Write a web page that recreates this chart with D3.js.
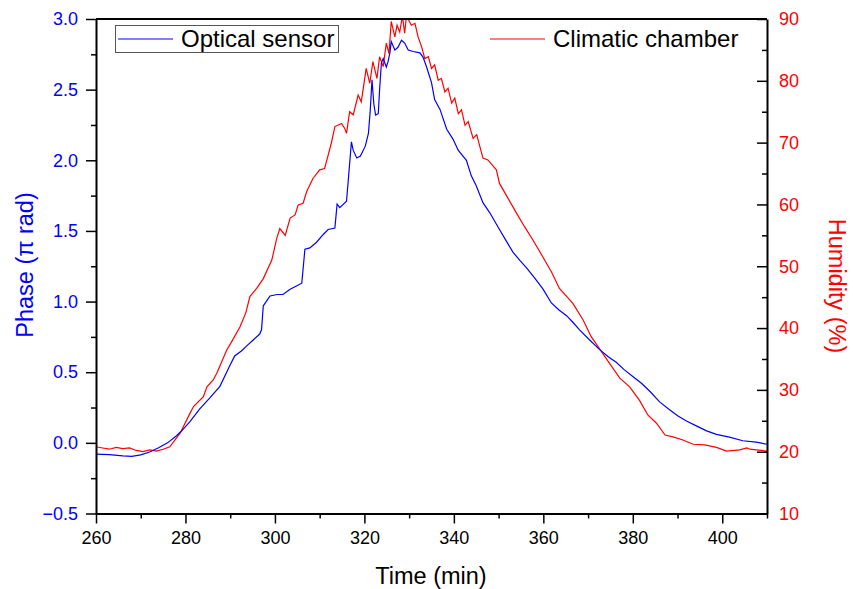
<!DOCTYPE html>
<html lang="en">
<head>
    <meta charset="UTF-8">
    <title>Phase and humidity</title>
    <script src="https://cdn.jsdelivr.net/npm/d3@7"></script>
    <style>
        body { margin: 0; background: #fff; }
        text { font-family: "Liberation Sans", Arial, sans-serif; }
        .axis path.domain { stroke: #000; stroke-width: 2; }
        .axis line { stroke: #000; stroke-width: 1.5; }
        .axis text { font-size: 18px; }
    </style>
</head>
<body>
<script>
    const width = 853, height = 589;
    const margin = {top: 19, right: 86, bottom: 75.5, left: 96};

    // Optical sensor: time (min) / phase (pi rad)
    const optTime = [260, 263, 266, 268, 270, 272, 274, 276, 278, 279, 281, 283.2, 285.5, 287.7, 289.9, 291, 292.5,
        293.7, 295.2, 296.6, 297, 297.4, 298.9, 300.5, 301.8, 303.3, 304.8, 306, 306.7, 307.8, 309.3, 310.8, 311.9,
        313.4, 313.9, 314.5, 316, 316.4, 317.1, 317.5, 318.3, 319.1, 320.2, 320.9, 321.3, 321.7, 322.1, 322.5, 323.1,
        323.4, 323.8, 324.2, 324.9, 325.3, 325.7, 326, 326.8, 327.5, 328.3, 329, 329.8, 330.9, 332.4, 333.1, 333.9,
        335, 335.7, 336.9, 338.4, 339.8, 341, 342.8, 343.9, 345, 346.5, 348, 350.2, 351.7, 353.2, 354.8, 356.2, 358,
        359.9, 361.8, 363.5, 365.2, 366.7, 368.1, 370.3, 372.6, 374.5, 376.3, 378, 380, 382, 383.8, 386, 388, 390.1,
        392, 394.2, 396.5, 398.7, 401.6, 404.6, 407.6, 410];
    const optPhase = [-0.08, -0.083, -0.092, -0.095, -0.085, -0.065, -0.035, 0.0, 0.05, 0.08, 0.15, 0.24, 0.32, 0.40,
        0.545, 0.615, 0.65, 0.686, 0.73, 0.77, 0.8, 0.97, 1.04, 1.05, 1.05, 1.086, 1.11, 1.13, 1.37, 1.38, 1.42, 1.475,
        1.51, 1.52, 1.69, 1.665, 1.71, 1.86, 2.13, 2.07, 2.016, 2.03, 2.10, 2.19, 2.35, 2.57, 2.40, 2.32, 2.33, 2.50,
        2.69, 2.72, 2.66, 2.70, 2.76, 2.84, 2.78, 2.80, 2.85, 2.83, 2.78, 2.77, 2.76, 2.73, 2.66, 2.55, 2.43, 2.36,
        2.22, 2.15, 2.07, 2.00, 1.89, 1.82, 1.70, 1.63, 1.51, 1.43, 1.35, 1.29, 1.24, 1.17, 1.09, 0.99, 0.94, 0.90,
        0.85, 0.80, 0.73, 0.66, 0.61, 0.57, 0.52, 0.47, 0.42, 0.365, 0.29, 0.24, 0.19, 0.155, 0.12, 0.085, 0.06, 0.04,
        0.015, 0.005, -0.01];

    // Climatic chamber: time (min) / humidity (%)
    const humTime = [260, 261.5, 263, 264.5, 266, 267.5, 269, 270.5, 272, 273.5, 275, 276.5, 278.8, 281, 281.8, 284,
        284.8, 286.2, 287, 289.2, 290.5, 292.2, 293.5, 294.4, 296, 297.4, 299.3, 300.4, 301.1, 302.3, 303.4, 304.5,
        305.2, 306.3, 307.1, 308.5, 310, 311.1, 312.6, 313.4, 314.9, 315.6, 316, 316.7, 317.5, 318.6, 319.3, 320.4,
        321.2, 321.9, 322.8, 323.4, 324.2, 324.9, 325.5, 326, 326.8, 327.3, 327.9, 328.5, 329, 329.4, 330.5, 331.3,
        332, 332.8, 333.5, 334.3, 335, 335.7, 336.5, 337.2, 338, 338.7, 339.5, 340.2, 341, 341.7, 342.5, 343.2,
        344.3, 345.1, 346.5, 347.6, 349.5, 350.2, 351.7, 354, 355.8, 357.7, 359.9, 361.8, 363.6, 366.6, 368.9,
        370.7, 373, 374.8, 377.1, 379.3, 381.5, 383.4, 385.3, 387.2, 389, 391.2, 393.5, 396.1, 398.7, 401, 403.9,
        405.5, 406.2, 407.6, 410];
    const humValue = [20.8, 20.6, 20.4, 20.7, 20.5, 20.6, 20.2, 20.0, 20.3, 20.1, 20.4, 20.8, 23.0, 26.2, 27.3, 28.9,
        30.5, 31.6, 32.7, 36.4, 38.0, 40.2, 42.5, 45.1, 46.5, 48.0, 51.0, 54.5, 56.1, 55.0, 57.8, 58.3, 59.9, 60.2,
        62.1, 64.2, 65.6, 65.8, 69.9, 72.6, 73.1, 72.3, 71.5, 75.0, 74.5, 77.7, 76.6, 82.0, 79.6, 83.1, 80.4, 83.9,
        82.3, 86.1, 84.4, 89.6, 87.1, 89.0, 87.9, 90.5, 87.7, 90.5, 89.0, 89.3, 87.1, 85.5, 83.6, 83.9, 82.0, 82.6,
        80.1, 80.4, 78.2, 78.8, 76.4, 77.2, 74.7, 75.3, 72.8, 73.4, 70.7, 71.3, 67.5, 67.2, 65.6, 63.4, 61.5, 58.6,
        56.4, 54.2, 51.5, 49.1, 46.4, 44.0, 41.3, 38.6, 36.2, 34.3, 31.9, 30.5, 28.3, 25.9, 24.6, 22.7, 22.4, 21.9,
        21.2, 21.1, 20.7, 20.1, 20.3, 20.6, 20.4, 20.3, 20.1];

    const xTicks = [260, 280, 300, 320, 340, 360, 380, 400];
    const phaseTicks = [-0.5, 0.0, 0.5, 1.0, 1.5, 2.0, 2.5, 3.0];
    const humTicks = [10, 20, 30, 40, 50, 60, 70, 80, 90];

    const svg = d3.select("body")
                  .append("svg")
                  .attr("width", width)
                  .attr("height", height);

    const x = d3.scaleLinear([260, 410], [margin.left, width - margin.right]);
    const yPhase = d3.scaleLinear([-0.5, 3.0], [height - margin.bottom, margin.top]);
    const yHum = d3.scaleLinear([10, 90], [height - margin.bottom, margin.top]);

    const x0 = margin.left, x1 = width - margin.right;
    const y0 = height - margin.bottom, y1 = margin.top;

    svg.append("clipPath").attr("id", "plot")
       .append("rect").attr("x", x0).attr("y", y1).attr("width", x1 - x0).attr("height", y0 - y1);

    // curves
    const optData = optTime.map((t, i) => [t, optPhase[i]]);
    const humData = humTime.map((t, i) => [t, humValue[i]]);

    svg.append("path")
       .datum(humData)
       .attr("clip-path", "url(#plot)")
       .attr("fill", "none")
       .attr("stroke", "#ff0000")
       .attr("stroke-width", 1.2)
       .attr("d", d3.line(d => x(d[0]), d => yHum(d[1])));

    svg.append("path")
       .datum(optData)
       .attr("clip-path", "url(#plot)")
       .attr("fill", "none")
       .attr("stroke", "#0000ff")
       .attr("stroke-width", 1.2)
       .attr("d", d3.line(d => x(d[0]), d => yPhase(d[1])));

    // minor ticks
    const halfway = arr => arr.slice(0, -1).map((v, i) => (v + arr[i + 1]) / 2);

    svg.append("g").attr("class", "axis")
       .attr("transform", `translate(0,${y0})`)
       .call(d3.axisBottom(x).tickValues(halfway(xTicks).concat([410])).tickSize(5).tickFormat(""))
       .call(g => g.select(".domain").remove());
    svg.append("g").attr("class", "axis")
       .attr("transform", `translate(${x0},0)`)
       .call(d3.axisLeft(yPhase).tickValues(halfway(phaseTicks)).tickSize(5).tickFormat(""))
       .call(g => g.select(".domain").remove());
    svg.append("g").attr("class", "axis")
       .attr("transform", `translate(${x1},0)`)
       .call(d3.axisRight(yHum).tickValues(halfway(humTicks)).tickSize(-5).tickFormat(""))
       .call(g => g.select(".domain").remove());

    // major axes
    svg.append("g").attr("class", "axis")
       .attr("transform", `translate(0,${y0})`)
       .call(d3.axisBottom(x).tickValues(xTicks).tickSize(10).tickSizeOuter(0).tickPadding(8).tickFormat(d3.format("d")))
       .selectAll("text").attr("fill", "#000");

    svg.append("g").attr("class", "axis")
       .attr("transform", `translate(${x0},0)`)
       .call(d3.axisLeft(yPhase).tickValues(phaseTicks).tickSize(10).tickSizeOuter(0).tickPadding(8).tickFormat(d3.format(".1f")))
       .selectAll("text").attr("fill", "#0000ff");

    svg.append("g").attr("class", "axis")
       .attr("transform", `translate(${x1},0)`)
       .call(d3.axisRight(yHum).tickValues(humTicks).tickSize(-10).tickSizeOuter(0).tickPadding(12).tickFormat(d3.format("d")))
       .selectAll("text").attr("fill", "#ff0000");

    // top border
    svg.append("line")
       .attr("x1", x0).attr("x2", x1).attr("y1", y1).attr("y2", y1)
       .attr("stroke", "#000").attr("stroke-width", 2);

    // axis titles
    svg.append("text")
       .attr("x", 431).attr("y", 584)
       .attr("text-anchor", "middle")
       .attr("font-size", 23.5)
       .text("Time (min)");

    svg.append("text")
       .attr("transform", "translate(33,265) rotate(-90)")
       .attr("text-anchor", "middle")
       .attr("font-size", 23.5)
       .attr("fill", "#0000ff")
       .text("Phase (\u03c0 rad)");

    svg.append("text")
       .attr("transform", "translate(829,286) rotate(90)")
       .attr("text-anchor", "middle")
       .attr("font-size", 23.5)
       .attr("fill", "#ff0000")
       .text("Humidity (%)");

    // legend
    svg.append("rect")
       .attr("x", 115.5).attr("y", 25.5).attr("width", 223).attr("height", 27)
       .attr("fill", "#fff").attr("stroke", "#555").attr("stroke-width", 1);

    const legend = [
        {label: "Optical sensor", color: "#0000ff", x: 118},
        {label: "Climatic chamber", color: "#ff0000", x: 490}
    ];
    legend.forEach(d => {
        svg.append("line")
           .attr("x1", d.x).attr("x2", d.x + 55).attr("y1", 39).attr("y2", 39)
           .attr("stroke", d.color).attr("stroke-width", 1.2);
        svg.append("text")
           .attr("x", d.x + 63).attr("y", 47)
           .attr("font-size", 24)
           .text(d.label);
    });
</script>
</body>
</html>
